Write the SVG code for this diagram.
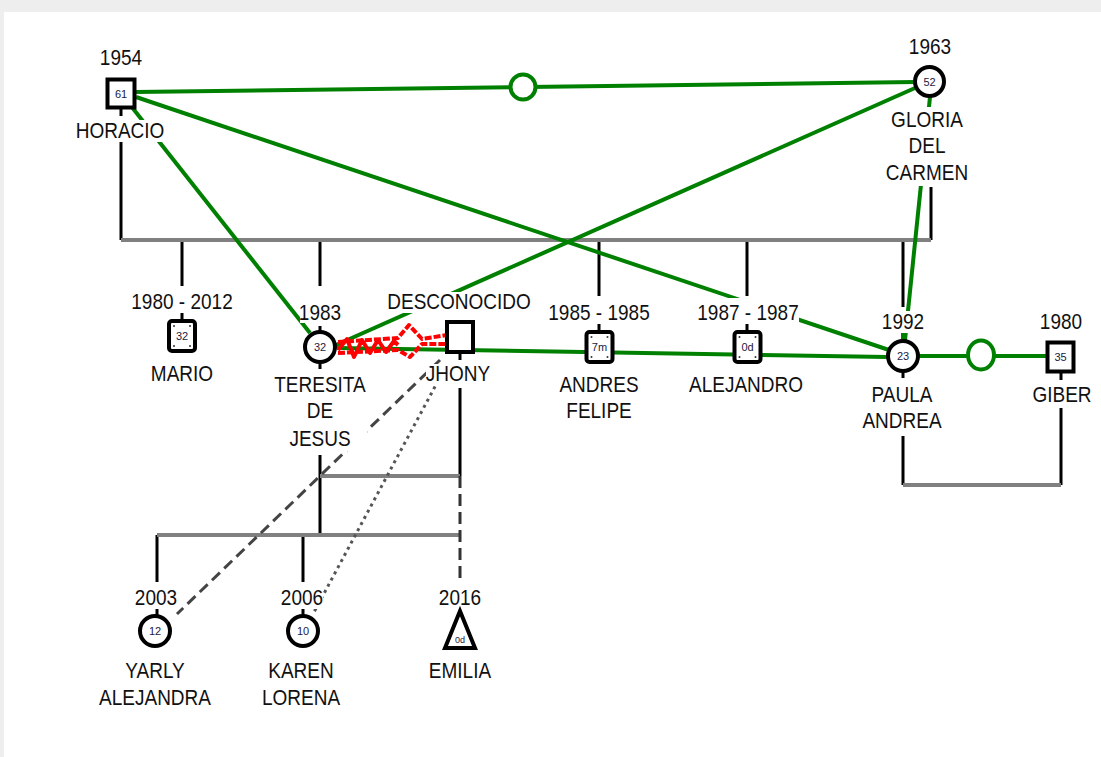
<svg xmlns="http://www.w3.org/2000/svg" width="1101" height="757" viewBox="0 0 1101 757">
<style>
.t{font-family:"Liberation Sans",Arial,sans-serif;font-size:19px;fill:#111;text-anchor:middle}
.s{font-family:"Liberation Sans",Arial,sans-serif;font-size:11px;fill:#1a1a40;text-anchor:middle}
.g{stroke:#008000;stroke-width:4;fill:none}
.b{stroke:#000;stroke-width:3;fill:none}
.gr{stroke:#808080;stroke-width:4;fill:none}
.n{fill:#fff;stroke:#000;stroke-width:4}
.d{fill:#333}
.bg{fill:#fff}
</style>
<rect x="0" y="0" width="1101" height="757" fill="#eeeeee"/>
<rect x="4" y="12" width="1097" height="745" fill="#ffffff"/>

<g id="connectors">
  <!-- sibling bar Horacio + Gloria -->
  <path class="b" d="M121,142 V240 M931,187 V240 M182,240 V286 M320,240 V286 M599,240 V296 M747,240 V296 M903,240 V307"/>
  <path class="gr" d="M121,240 H931"/>
  <!-- green relations -->
  <path class="g" d="M135,92 L915,82"/>
  <path class="g" d="M915,88 L336,345"/>
  <path class="g" d="M131,106 L310,333"/>
  <path class="g" d="M136,97 L889,350"/>
  <path class="g" d="M930,97 L905,340"/>
  <path class="g" d="M337,348 L887,357"/>
  <path class="g" d="M919,356 L1047,356"/>
  <circle cx="523" cy="87" r="12.5" fill="#fff" stroke="#008000" stroke-width="4"/>
  <ellipse cx="981" cy="355" rx="13" ry="14.5" fill="#fff" stroke="#008000" stroke-width="4"/>
  <!-- red hostile relation Teresita - Jhony -->
  <g stroke="#ff0000" stroke-width="4" fill="none" stroke-linejoin="round">
    <path d="M338,342 L398,338 L409,325 L422,339 L447,335" stroke-dasharray="7,2"/>
    <path d="M338,353 L398,350 L410,357 L422,344 L447,344" stroke-dasharray="7,2"/>
    <path d="M338,350 L347,339 L354,357 L362,340 L370,353 L378,340 L386,352 L394,341 L398,345"/>
  </g>
  <!-- Teresita + Jhony children -->
  <path class="b" d="M460,354 V360 M460,388 V476 M320,455 V535 M157,535 V582 M303,535 V582"/>
  <path class="gr" d="M320,476 H460 M157,535 H460"/>
  <path d="M460,476 V582" stroke="#333" stroke-width="3" stroke-dasharray="12,6"/>
  <path d="M440,360 L177,614" stroke="#444" stroke-width="3" stroke-dasharray="11,6"/>
  <path d="M445,368 L313,614" stroke="#555" stroke-width="3" stroke-dasharray="3,4"/>
  <!-- Paula + Giber -->
  <path class="b" d="M903,436 V485 M1061,408 V485"/>
  <path class="gr" d="M903,485 H1061"/>
  <!-- small ticks -->
  <path class="b" d="M121,109 V116 M182,312 V319 M320,326 V332 M320,362 V369 M599,323 V331 M747,323 V331 M903,371 V378 M1061,373 V380 M157,608 V615 M303,608 V615"/>
  <path class="g" d="M903,333 V339"/>
</g>

<g id="horacio">
  <rect class="bg" x="100" y="48" width="42" height="21"/>
  <text class="t" transform="translate(121,65) scale(1,1.15)">1954</text>
  <rect class="n" x="107.5" y="79.5" width="27" height="28"/>
  <text class="s" x="121" y="97.5">61</text>
  <rect class="bg" x="76" y="120" width="88" height="22"/>
  <text class="t" transform="translate(120,138) scale(1,1.15)">HORACIO</text>
</g>

<g id="gloria">
  <rect class="bg" x="909" y="37" width="42" height="21"/>
  <text class="t" transform="translate(930,54) scale(1,1.15)">1963</text>
  <circle class="n" cx="929.5" cy="81.5" r="14.5"/>
  <text class="s" x="929.5" y="85.5">52</text>
  <rect class="bg" x="884" y="107" width="86" height="79"/>
  <text class="t" transform="translate(927,127) scale(1,1.15)">GLORIA</text>
  <text class="t" transform="translate(927,153) scale(1,1.15)">DEL</text>
  <text class="t" transform="translate(927,180) scale(1,1.15)">CARMEN</text>
</g>

<g id="mario">
  <rect class="bg" x="131" y="292" width="102" height="21"/>
  <text class="t" transform="translate(182,309) scale(1,1.15)">1980 - 2012</text>
  <rect class="n" x="169" y="321" width="26" height="30" rx="3"/>
  <g class="d"><circle cx="174" cy="326" r="1"/><circle cx="190" cy="326" r="1"/><circle cx="174" cy="346" r="1"/><circle cx="190" cy="346" r="1"/></g>
  <text class="s" x="182" y="340">32</text>
  <rect class="bg" x="150" y="363" width="64" height="22"/>
  <text class="t" transform="translate(182,381) scale(1,1.15)">MARIO</text>
</g>

<g id="teresita">
  <rect class="bg" x="300" y="303" width="40" height="20"/>
  <text class="t" transform="translate(320,320) scale(1,1.15)">1983</text>
  <circle class="n" cx="320" cy="347" r="15"/>
  <text class="s" x="320" y="351">32</text>
  <rect class="bg" x="273" y="375" width="94" height="76"/>
  <text class="t" transform="translate(320,392) scale(1,1.15)">TERESITA</text>
  <text class="t" transform="translate(320,418) scale(1,1.15)">DE</text>
  <text class="t" transform="translate(320,446) scale(1,1.15)">JESUS</text>
</g>

<g id="jhony">
  <rect class="bg" x="387" y="292" width="144" height="21"/>
  <text class="t" transform="translate(459,309) scale(1,1.15)">DESCONOCIDO</text>
  <rect class="n" x="447" y="322" width="26" height="30"/>
  <rect class="bg" x="426" y="364" width="64" height="22"/>
  <text class="t" transform="translate(458,381) scale(1,1.15)">JHONY</text>
</g>

<g id="andres">
  <rect class="bg" x="548" y="302" width="102" height="22"/>
  <text class="t" transform="translate(599,320) scale(1,1.15)">1985 - 1985</text>
  <rect class="n" x="586.5" y="332" width="26" height="30" rx="3"/>
  <g class="d"><circle cx="591.5" cy="337" r="1"/><circle cx="607.5" cy="337" r="1"/><circle cx="591.5" cy="357" r="1"/><circle cx="607.5" cy="357" r="1"/></g>
  <text class="s" x="599.5" y="351">7m</text>
  <rect class="bg" x="558" y="375" width="82" height="48"/>
  <text class="t" transform="translate(599,392) scale(1,1.15)">ANDRES</text>
  <text class="t" transform="translate(599,418) scale(1,1.15)">FELIPE</text>
</g>

<g id="alejandro">
  <rect class="bg" x="697" y="298" width="102" height="26"/>
  <text class="t" transform="translate(748,320) scale(1,1.15)">1987 - 1987</text>
  <rect class="n" x="734.5" y="332" width="26" height="30" rx="3"/>
  <g class="d"><circle cx="739.5" cy="337" r="1"/><circle cx="755.5" cy="337" r="1"/><circle cx="739.5" cy="357" r="1"/><circle cx="755.5" cy="357" r="1"/></g>
  <text class="s" x="747.5" y="351">0d</text>
  <rect class="bg" x="689" y="375" width="114" height="22"/>
  <text class="t" transform="translate(746,392) scale(1,1.15)">ALEJANDRO</text>
</g>

<g id="paula">
  <rect class="bg" x="882" y="311" width="42" height="22"/>
  <text class="t" transform="translate(903,329) scale(1,1.15)">1992</text>
  <circle class="n" cx="903" cy="356" r="15"/>
  <text class="s" x="903" y="360">23</text>
  <rect class="bg" x="862" y="385" width="80" height="48"/>
  <text class="t" transform="translate(902,402) scale(1,1.15)">PAULA</text>
  <text class="t" transform="translate(902,428) scale(1,1.15)">ANDREA</text>
</g>

<g id="giber">
  <rect class="bg" x="1040" y="311" width="42" height="22"/>
  <text class="t" transform="translate(1061,329) scale(1,1.15)">1980</text>
  <rect class="n" x="1047.5" y="342.5" width="26" height="29"/>
  <text class="s" x="1060.5" y="361">35</text>
  <rect class="bg" x="1035" y="385" width="54" height="22"/>
  <text class="t" transform="translate(1062,402) scale(1,1.15)">GIBER</text>
</g>

<g id="yarly">
  <rect class="bg" x="135" y="587" width="42" height="22"/>
  <text class="t" transform="translate(156,605) scale(1,1.15)">2003</text>
  <circle class="n" cx="155" cy="631" r="15"/>
  <text class="s" x="155" y="635">12</text>
  <text class="t" transform="translate(155,678) scale(1,1.15)">YARLY</text>
  <text class="t" transform="translate(155,705) scale(1,1.15)">ALEJANDRA</text>
</g>

<g id="karen">
  <rect class="bg" x="281" y="587" width="42" height="22"/>
  <text class="t" transform="translate(302,605) scale(1,1.15)">2006</text>
  <circle class="n" cx="303" cy="631" r="15"/>
  <text class="s" x="303" y="635">10</text>
  <text class="t" transform="translate(301,678) scale(1,1.15)">KAREN</text>
  <text class="t" transform="translate(301,705) scale(1,1.15)">LORENA</text>
</g>

<g id="emilia">
  <text class="t" transform="translate(460,605) scale(1,1.15)">2016</text>
  <polygon class="n" points="460,611 445,648 475,648"/>
  <text class="s" x="460" y="643" style="font-size:9px">0d</text>
  <text class="t" transform="translate(460,678) scale(1,1.15)">EMILIA</text>
</g>
</svg>
